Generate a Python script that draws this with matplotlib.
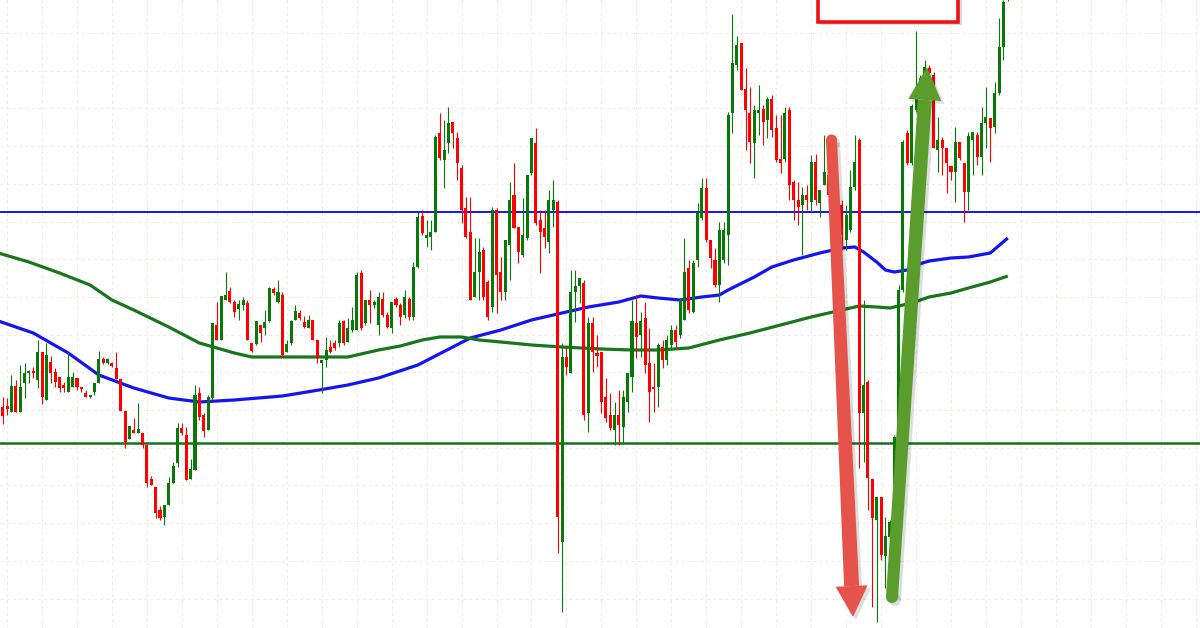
import numpy as np
import matplotlib
matplotlib.use("Agg")
import matplotlib.pyplot as plt
from matplotlib.patches import Polygon, Rectangle

# ---------------- data (price units) ----------------
opens = [593, 594, 588, 614, 588, 617, 627, 629, 620, 648, 600, 638, 628, 623, 615, 608, 613, 622, 613, 607,
         603, 608, 617, 641, 637, 637, 632, 621, 589, 561, 570, 567, 567, 555, 521, 513, 490, 483, 495, 517,
         537, 572, 565, 521, 530, 607, 585, 570, 602, 675, 660, 700, 709, 698, 691, 695, 697, 657, 656, 675,
         672, 679, 711, 698, 705, 648, 657, 680, 687, 678, 672, 680, 660, 637, 640, 653, 657, 657, 679, 658,
         670, 670, 727, 677, 700, 695, 675, 701, 685, 672, 701, 695, 685, 701, 683, 733, 784, 762, 763, 768,
         867, 840, 857, 878, 862, 832, 792, 768, 703, 728, 750, 718, 693, 790, 728, 708, 755, 805, 773, 745,
         762, 827, 857, 780, 772, 758, 790, 798, 458, 643, 627, 708, 714, 717, 587, 677, 647, 648, 603, 585,
         570, 585, 573, 598, 623, 677, 665, 682, 637, 613, 613, 653, 640, 655, 670, 665, 680, 732, 688, 740,
         782, 812, 760, 740, 715, 740, 765, 887, 935, 957, 911, 887, 857, 887, 891, 880, 901, 872, 841, 841,
         890, 818, 800, 795, 805, 798, 838, 797, 815, 825, 805, 788, 795, 760, 770, 813, 860, 587, 618, 521,
         480, 503, 444, 463, 470, 563, 710, 867, 837, 890, 910, 922, 932, 925, 850, 860, 852, 834, 828, 858,
         837, 808, 860, 865, 843, 877, 882, 873, 907, 953, 1000]
highs = [603, 602, 625, 620, 635, 637, 630, 633, 660, 648, 657, 644, 632, 623, 618, 647, 628, 622, 613, 610,
         605, 617, 649, 643, 642, 638, 648, 621, 589, 574, 582, 597, 567, 555, 524, 513, 494, 495, 523, 538,
         577, 577, 573, 541, 615, 613, 587, 605, 677, 698, 704, 728, 713, 700, 700, 703, 700, 657, 679, 675,
         690, 713, 713, 720, 708, 660, 680, 695, 690, 684, 685, 680, 660, 640, 663, 660, 660, 680, 680, 682,
         693, 728, 730, 700, 710, 700, 708, 708, 688, 698, 703, 697, 710, 703, 738, 788, 790, 780, 780, 865,
         887, 880, 893, 878, 868, 835, 803, 803, 762, 762, 753, 720, 793, 792, 743, 760, 818, 837, 773, 802,
         825, 862, 872, 790, 790, 810, 820, 800, 657, 653, 730, 730, 722, 720, 683, 683, 665, 648, 622, 607,
         598, 610, 610, 627, 700, 705, 688, 698, 672, 637, 657, 660, 665, 675, 675, 702, 762, 740, 740, 797,
         822, 822, 760, 752, 778, 778, 888, 986, 964, 957, 932, 913, 895, 915, 895, 903, 905, 885, 885, 893,
         893, 820, 818, 813, 815, 845, 846, 810, 865, 835, 815, 810, 800, 795, 830, 865, 862, 700, 620, 521,
         503, 503, 483, 480, 565, 715, 860, 870, 896, 969, 925, 940, 935, 928, 883, 863, 852, 834, 873, 858,
         837, 868, 868, 868, 893, 913, 882, 918, 982, 1000, 1035]
lows = [576, 585, 588, 588, 588, 602, 617, 622, 612, 596, 600, 617, 613, 608, 608, 608, 613, 610, 608, 603,
        602, 605, 617, 636, 636, 633, 621, 589, 552, 561, 567, 567, 552, 513, 515, 482, 480, 475, 495, 517,
        533, 565, 520, 521, 530, 580, 563, 570, 600, 660, 660, 700, 697, 683, 680, 690, 660, 648, 655, 658,
        665, 678, 705, 697, 643, 648, 655, 680, 680, 672, 672, 660, 637, 607, 633, 647, 650, 653, 655, 658,
        668, 670, 670, 675, 677, 692, 665, 683, 672, 667, 693, 675, 682, 680, 680, 732, 765, 753, 750, 768,
        840, 812, 847, 852, 820, 777, 762, 700, 703, 700, 700, 680, 688, 687, 700, 700, 720, 772, 737, 743,
        760, 825, 775, 727, 752, 747, 773, 447, 388, 625, 627, 678, 697, 580, 568, 628, 633, 587, 578, 570,
        555, 555, 557, 588, 608, 642, 643, 627, 578, 588, 593, 632, 635, 650, 652, 662, 680, 687, 687, 733,
        780, 758, 732, 713, 698, 737, 735, 867, 930, 910, 850, 837, 822, 865, 855, 862, 863, 838, 827, 838,
        800, 780, 775, 745, 790, 788, 795, 783, 815, 800, 785, 780, 750, 750, 768, 810, 532, 538, 490, 393,
        378, 440, 412, 460, 465, 560, 708, 835, 835, 888, 908, 920, 920, 852, 828, 825, 807, 820, 798, 840,
        778, 790, 825, 835, 825, 852, 838, 867, 905, 940, 999]
closes = [584, 591, 614, 588, 613, 627, 628, 627, 648, 603, 645, 627, 618, 612, 612, 623, 623, 613, 611, 603,
          605, 617, 641, 637, 641, 634, 621, 589, 558, 574, 567, 571, 555, 517, 515, 487, 482, 495, 517, 534,
          572, 567, 520, 531, 605, 583, 569, 603, 677, 660, 704, 705, 698, 688, 696, 700, 660, 649, 679, 667,
          678, 712, 707, 708, 645, 656, 679, 689, 682, 673, 680, 660, 642, 640, 650, 648, 652, 677, 657, 672,
          680, 725, 672, 700, 695, 698, 703, 685, 673, 698, 695, 683, 703, 683, 733, 783, 767, 765, 768, 863,
          842, 850, 877, 867, 837, 790, 763, 700, 728, 748, 703, 683, 790, 725, 708, 760, 800, 772, 748, 765,
          825, 862, 777, 768, 763, 800, 800, 483, 643, 633, 708, 714, 722, 585, 677, 648, 644, 598, 582, 572,
          585, 575, 603, 627, 679, 663, 679, 635, 608, 611, 655, 640, 660, 670, 658, 700, 728, 690, 737, 787,
          812, 760, 742, 715, 770, 770, 885, 937, 955, 910, 890, 858, 890, 890, 878, 901, 870, 840, 837, 887,
          815, 800, 793, 805, 800, 838, 800, 810, 828, 805, 790, 800, 765, 785, 813, 838, 587, 615, 522, 482,
          503, 445, 464, 478, 563, 710, 858, 837, 894, 913, 922, 933, 927, 852, 860, 852, 837, 828, 858, 842,
          808, 864, 868, 843, 877, 883, 872, 907, 953, 998, 1030]

# moving averages read at selected bars (bar index, value)
blue_ma_idx = [-1, 7, 15, 22, 30, 38, 45, 53, 64, 71, 79, 86, 95, 107, 114, 121, 128, 134, 141, 146, 150,
               155, 160, 164, 166, 172, 176, 181, 187, 192, 195, 197, 200, 202, 204, 207, 209, 212, 217, 221,
               226, 230]
blue_ma_val = [679, 667, 647, 625, 612, 602, 598, 600, 604, 609, 615, 622, 635, 662, 670, 680, 687, 693, 698,
               704, 702, 700, 703, 705, 710, 723, 733, 740, 747, 752, 753, 748, 738, 730, 728, 730, 735, 739,
               742, 743, 747, 762]
green_ma_idx = [-1, 6, 13, 20, 25, 30, 38, 45, 53, 57, 64, 71, 79, 86, 91, 96, 100, 105, 109, 114, 121, 128,
                137, 144, 150, 157, 164, 171, 178, 185, 192, 196, 200, 203, 208, 212, 217, 221, 226, 230]
green_ma_val = [747, 738, 727, 715, 700, 690, 673, 657, 647, 643, 643, 643, 643, 650, 654, 660, 663, 663, 660,
                658, 655, 653, 651, 650, 650, 652, 660, 667, 675, 683, 690, 694, 693, 692, 697, 703, 707, 712,
                718, 724]

resistance_level = 788
support_level = 557

# ---------------- styling ----------------
W, H = 1200, 628
PX0 = 2.7     # pixel x of bar 0
STEP = 4.37   # pixels per bar
GREEN = "#087808"
RED = "#ff0000"

fig = plt.figure(figsize=(W / 100, H / 100), dpi=100)
ax = fig.add_axes([0, 0, 1, 1])
ax.set_xlim(-PX0 / STEP, (W - PX0) / STEP)
ax.set_ylim(1000 - H, 1000)
for s in ax.spines.values():
    s.set_visible(False)
ax.tick_params(length=0, labelbottom=False, labelleft=False)
ax.set_xticks(np.arange(1, 280, 8))
ax.set_yticks(np.arange(967, 370, -37.7))
ax.grid(True, color="#f1ebe1", linestyle=(0, (3, 3)), linewidth=0.75)
ax.set_axisbelow(True)

# horizontal levels
ax.axhline(resistance_level, color="#0000ff", linewidth=1.3, zorder=2)
ax.axhline(support_level, color="#16721a", linewidth=1.8, zorder=2)

# moving averages
ax.plot(blue_ma_idx, blue_ma_val, color="#1414f0", linewidth=2.3, zorder=2,
        solid_capstyle="butt", solid_joinstyle="round")
ax.plot(green_ma_idx, green_ma_val, color="#18761c", linewidth=2.3, zorder=2,
        solid_capstyle="butt", solid_joinstyle="round")

# candles
o = np.array(opens, float); c = np.array(closes, float)
h = np.array(highs, float); l = np.array(lows, float)
x = np.arange(len(o))
cols = np.where(c >= o, GREEN, RED)
ax.vlines(x, l, h, colors=cols, linewidth=0.8, zorder=3)
bottom = np.minimum(o, c)
height = np.maximum(np.abs(c - o), 1.6)
ax.bar(x, height, bottom=bottom, width=0.7, color=cols, linewidth=0, zorder=4)

# ---------------- annotation overlay (pixel coords) ----------------
ov = fig.add_axes([0, 0, 1, 1])
ov.set_xlim(0, W); ov.set_ylim(H, 0); ov.axis("off")
ov.patch.set_alpha(0)

def tapered_arrow(p0, p1, w0, w1, head_w, head_len, color, shadow=True):
    p0 = np.array(p0, float); p1 = np.array(p1, float)
    d = p1 - p0; L = np.hypot(*d); u = d / L; n = np.array([-u[1], u[0]])
    base = p1 - u * head_len
    shaft = [p0 + n * w0 / 2, base + n * w1 / 2, base - n * w1 / 2, p0 - n * w0 / 2]
    head = [base + n * head_w / 2, p1, base - n * head_w / 2]
    layers = []
    if shadow:
        layers.append(("#00000022", np.array([3, 3])))
    layers.append((color, np.array([0, 0])))
    for colr, off in layers:
        ov.add_patch(Polygon([q + off for q in shaft], closed=True, fc=colr, ec="none", zorder=10))
        ov.add_patch(Polygon([q + off for q in head], closed=True, fc=colr, ec="none", zorder=10))
        ov.add_patch(plt.Circle(tuple(p0 + off), w0 / 2, fc=colr, ec="none", zorder=10))

tapered_arrow((831.5, 140), (853, 617), 11, 15, 32, 31, "#e5534b")
tapered_arrow((892, 597), (927, 67), 12, 14, 33, 33, "#5b9d2c")

# red box at top
ov.add_patch(Rectangle((821, -10), 141, 35, fc="#00000025", ec="none", zorder=10))
ov.add_patch(Rectangle((818, -10), 140, 32, fc="white", ec="#ee1111", lw=2.6, zorder=11))

fig.savefig("out.png", dpi=100)
